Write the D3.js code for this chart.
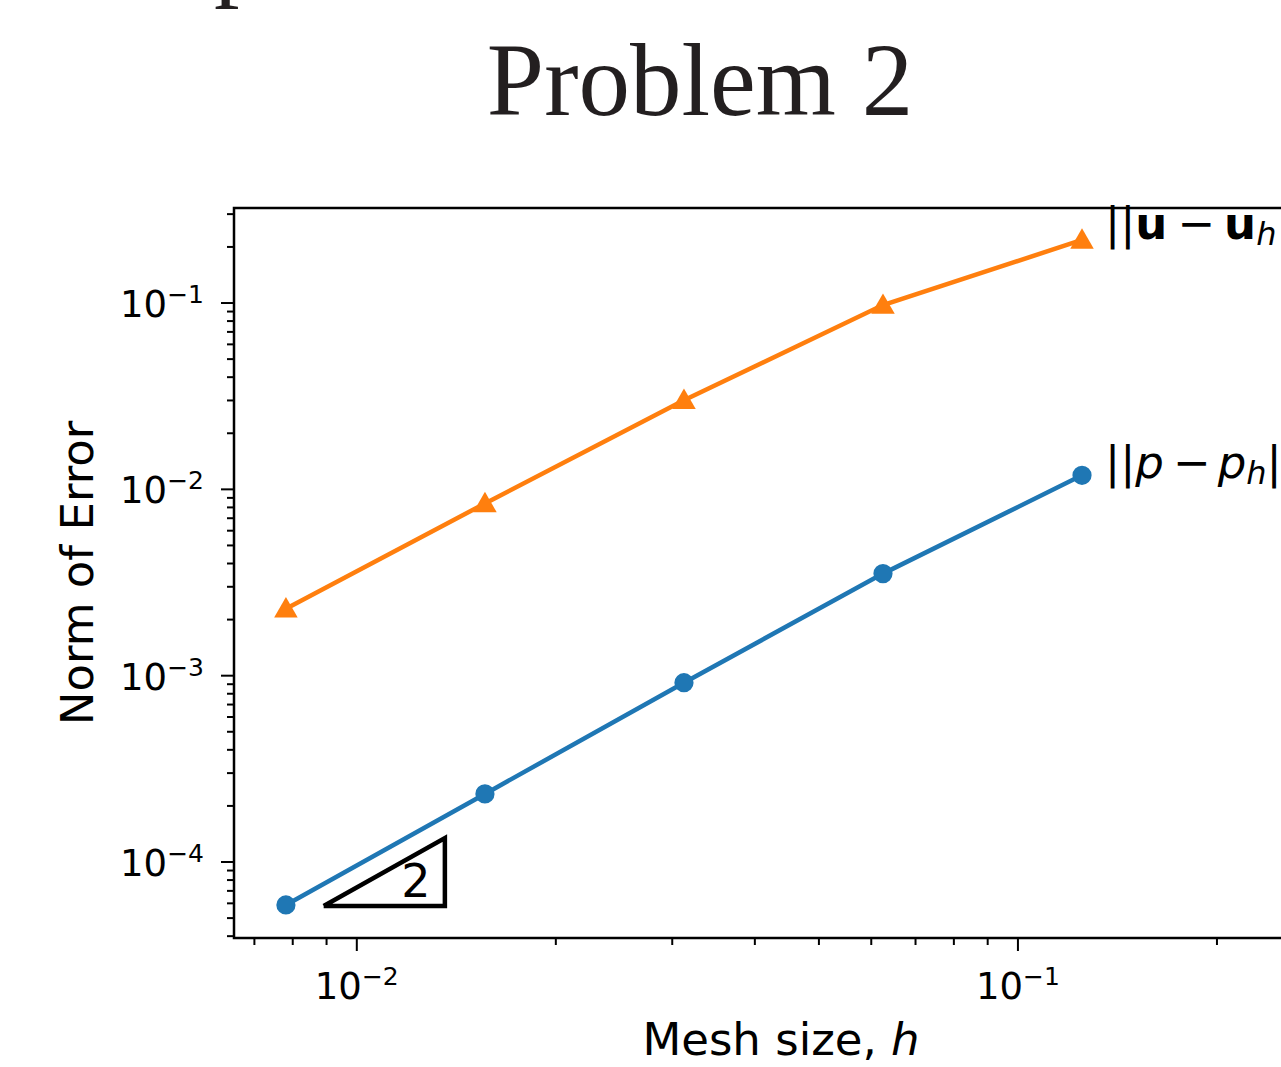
<!DOCTYPE html>
<html>
<head>
<meta charset="utf-8">
<script src="https://cdn.jsdelivr.net/npm/d3@7"></script>
<style>
	body {margin: 0; background: #fff;}
	svg {display: block; overflow: hidden;}
	text {font-family: "DejaVu Sans", sans-serif;}
</style>
</head>
<body>
<svg id="chart" width="1281" height="1067"></svg>
<script>

// mesh sizes and errors
var meshSizes = [1/128, 1/64, 1/32, 1/16, 1/8]
var errU = [2.29e-3, 8.4e-3, 3.01e-2, 9.75e-2, 0.218]
var errP = [5.88e-5, 2.32e-4, 9.17e-4, 3.53e-3, 1.19e-2]

// slope triangle corners (h, err)
var triH = [0.00891, 0.01359]
var triErr = [5.81e-5, 1.345e-4]
var triLabel = '2'

var xMajors = [1e-2, 1e-1]
var xMinors = [0.007, 0.008, 0.009, 0.02, 0.03, 0.04, 0.05, 0.06, 0.07, 0.08, 0.09, 0.2, 0.3]
var yMajors = [1e-4, 1e-3, 1e-2, 1e-1]
var yMinors = [4e-5, 5e-5, 6e-5, 7e-5, 8e-5, 9e-5,
	2e-4, 3e-4, 4e-4, 5e-4, 6e-4, 7e-4, 8e-4, 9e-4,
	2e-3, 3e-3, 4e-3, 5e-3, 6e-3, 7e-3, 8e-3, 9e-3,
	2e-2, 3e-2, 4e-2, 5e-2, 6e-2, 7e-2, 8e-2, 9e-2,
	2e-1, 3e-1]

var title = 'Problem 2',
	xTitle = 'Mesh size, ',
	yTitle = 'Norm of Error'

var blue = '#1f77b4',
	orange = '#ff7f0e'

var geom = {left: 234, top: 208, right: 1340, bottom: 938}

var svg = d3.select('#chart')

var x = d3.scaleLog().domain([0.00652, 0.307]).range([geom.left, geom.right]),
	y = d3.scaleLog().domain([3.91e-5, 0.3236]).range([geom.bottom, geom.top])

// leftover descender of the caption above, cut by the crop
svg.append('text')
	.attr('x', 214).attr('y', -13)
	.style('font-family', '"Liberation Serif", serif')
	.style('font-size', '102px')
	.attr('fill', '#231f20')
	.text('p')

svg.append('text')
	.attr('x', 700).attr('y', 115)
	.attr('text-anchor', 'middle')
	.style('font-family', '"Liberation Serif", serif')
	.style('font-size', '103px')
	.attr('fill', '#231f20')
	.text(title)

// ticks, outward like matplotlib
var tickG = svg.append('g').attr('stroke', '#000').attr('stroke-width', 2)

tickG.selectAll('.xmaj').data(xMajors).enter().append('line')
	.attr('x1', function(d) {return x(d)}).attr('x2', function(d) {return x(d)})
	.attr('y1', geom.bottom).attr('y2', geom.bottom + 13)
tickG.selectAll('.xmin').data(xMinors).enter().append('line')
	.attr('x1', function(d) {return x(d)}).attr('x2', function(d) {return x(d)})
	.attr('y1', geom.bottom).attr('y2', geom.bottom + 7)
tickG.selectAll('.ymaj').data(yMajors).enter().append('line')
	.attr('y1', function(d) {return y(d)}).attr('y2', function(d) {return y(d)})
	.attr('x1', geom.left).attr('x2', geom.left - 13)
tickG.selectAll('.ymin').data(yMinors).enter().append('line')
	.attr('y1', function(d) {return y(d)}).attr('y2', function(d) {return y(d)})
	.attr('x1', geom.left).attr('x2', geom.left - 7)

var expOf = function(d) {return Math.round(Math.log10(d))}

var powLabel = function(sel) {
	sel.append('tspan').text('10')
	sel.append('tspan')
		.attr('dy', -14)
		.style('font-size', '25px')
		.text(function(d) {return '\u2212' + Math.abs(expOf(d))})
}

svg.selectAll('.xlab').data(xMajors).enter().append('text')
	.attr('x', function(d) {return x(d)})
	.attr('y', 999)
	.attr('text-anchor', 'middle')
	.style('font-size', '37px')
	.call(powLabel)

svg.selectAll('.ylab').data(yMajors).enter().append('text')
	.attr('x', 204)
	.attr('y', function(d) {return y(d) + 14})
	.attr('text-anchor', 'end')
	.style('font-size', '37px')
	.call(powLabel)

var xl = svg.append('text')
	.attr('x', 781).attr('y', 1055)
	.attr('text-anchor', 'middle')
	.style('font-size', '45px')
xl.append('tspan').text(xTitle)
xl.append('tspan').style('font-style', 'italic').text('h')

svg.append('text')
	.attr('transform', 'translate(93,573) rotate(-90)')
	.attr('text-anchor', 'middle')
	.style('font-size', '45px')
	.text(yTitle)

// lines and markers
var line = d3.line()
	.x(function(d) {return x(d[0])})
	.y(function(d) {return y(d[1])})

var series = [
	{vals: errU, color: orange, marker: 'tri'},
	{vals: errP, color: blue, marker: 'dot'}
]

series.forEach(function(s) {
	var pts = d3.zip(meshSizes, s.vals)
	svg.append('path')
		.attr('d', line(pts))
		.attr('fill', 'none')
		.attr('stroke', s.color)
		.attr('stroke-width', 4.5)
	var sym = d3.symbol().type(s.marker == 'tri' ? d3.symbolTriangle : d3.symbolCircle)
		.size(s.marker == 'tri' ? 240 : 290)
	svg.selectAll(null).data(pts).enter().append('path')
		.attr('d', sym)
		.attr('transform', function(d) {return 'translate(' + x(d[0]) + ',' + (y(d[1]) + (s.marker == 'tri' ? 2 : 0)) + ')'})
		.attr('fill', s.color)
})

// slope triangle
svg.append('path')
	.attr('d', line([[triH[0], triErr[0]], [triH[1], triErr[1]], [triH[1], triErr[0]], [triH[0], triErr[0]]]))
	.attr('fill', 'none')
	.attr('stroke', '#000')
	.attr('stroke-width', 4.5)
	.attr('stroke-linejoin', 'miter')
svg.append('text')
	.attr('x', x(triH[1]) - 29).attr('y', y(triErr[0]) - 9)
	.attr('text-anchor', 'middle')
	.style('font-size', '46px')
	.text(triLabel)

// end labels, mathtext-like spacing
var lu = svg.append('text')
	.attr('x', 1105).attr('y', 239)
	.style('font-size', '45px')
lu.append('tspan').text('||')
lu.append('tspan').style('font-weight', 'bold').text('u')
lu.append('tspan').attr('dx', 10).text('\u2212')
lu.append('tspan').attr('dx', 9).style('font-weight', 'bold').text('u')
lu.append('tspan').attr('dy', 6).style('font-style', 'italic').style('font-size', '32px').text('h')

var lp = svg.append('text')
	.attr('x', 1105).attr('y', 478)
	.style('font-size', '45px')
lp.append('tspan').text('||')
lp.append('tspan').style('font-style', 'italic').text('p')
lp.append('tspan').attr('dx', 9).text('\u2212')
lp.append('tspan').attr('dx', 7).style('font-style', 'italic').text('p')
lp.append('tspan').attr('dy', 6).style('font-style', 'italic').style('font-size', '32px').text('h')
lp.append('tspan').attr('dy', -6).text('||')

// frame (right edge falls outside the crop)
svg.append('rect')
	.attr('x', geom.left).attr('y', geom.top)
	.attr('width', geom.right - geom.left).attr('height', geom.bottom - geom.top)
	.attr('fill', 'none')
	.attr('stroke', '#000')
	.attr('stroke-width', 2.5)

</script>
</body>
</html>
